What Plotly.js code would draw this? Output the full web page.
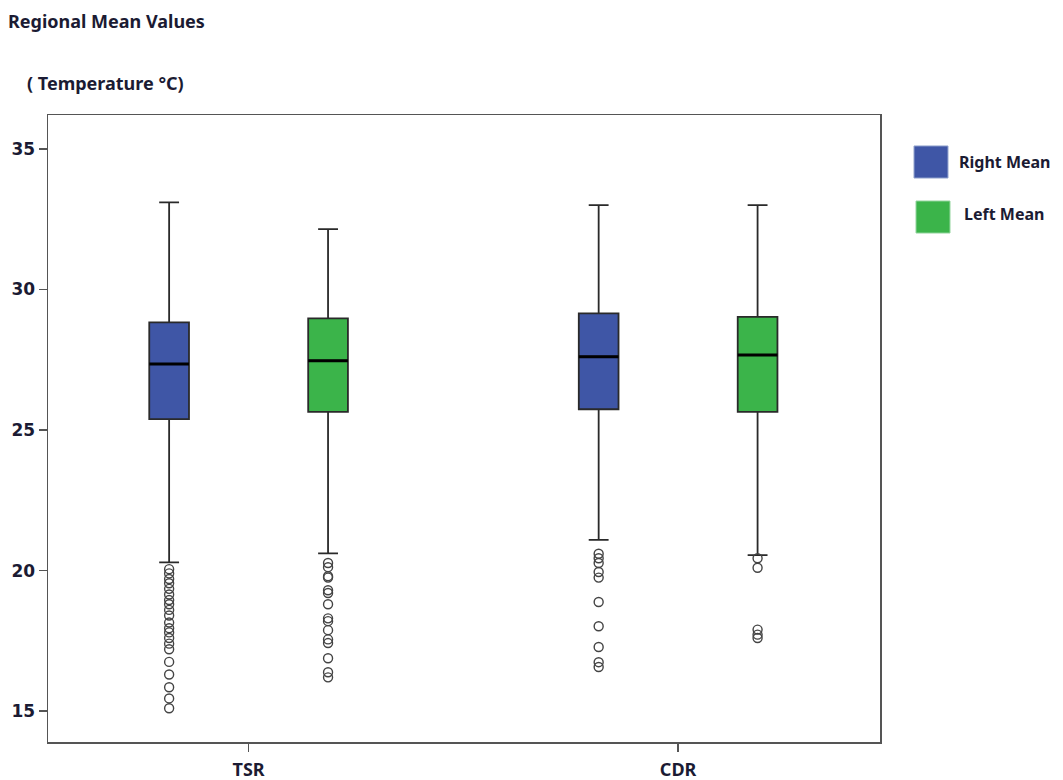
<!DOCTYPE html>
<html>
<head>
<meta charset="utf-8">
<script src="https://cdn.plot.ly/plotly-3.0.1.min.js"></script>
<style>html,body{margin:0;padding:0;background:#fff;}</style>
</head>
<body>
<div id="chart" style="width:1063px;height:780px;"></div>
<script>
// ---- data ----
const categories = ['TSR', 'CDR'];
const seriesNames = ['Right Mean', 'Left Mean'];

// Right Mean stats per category [TSR, CDR]
const rightLower  = [20.29, 21.09];
const rightQ1     = [25.39, 25.74];
const rightMedian = [27.35, 27.61];
const rightQ3     = [28.83, 29.15];
const rightUpper  = [33.10, 33.00];

// Left Mean stats per category [TSR, CDR]
const leftLower  = [20.61, 20.55];
const leftQ1     = [25.65, 25.65];
const leftMedian = [27.47, 27.67];
const leftQ3     = [28.97, 29.03];
const leftUpper  = [32.15, 33.00];

// outliers
const tsrRightOut = [20.05, 19.9, 19.7, 19.55, 19.35, 19.15, 18.95, 18.8, 18.6, 18.4, 18.15, 17.95, 17.8, 17.6, 17.4, 17.2, 16.75, 16.3, 15.85, 15.45, 15.1];
const cdrRightOut = [20.6, 20.44, 20.27, 19.95, 19.75, 18.88, 18.02, 17.28, 16.74, 16.57];
const tsrLeftOut  = [20.27, 20.12, 19.8, 19.75, 19.3, 19.2, 18.8, 18.3, 18.2, 17.88, 17.55, 17.42, 16.88, 16.38, 16.2];
const cdrLeftOut  = [20.44, 20.1, 17.9, 17.72, 17.6];

// ---- styles ----
const blue = '#3F56A6';
const green = '#3BB44A';
const edge = '#2a2a2a';
const textColor = '#1b1b33';
const fontFam = '"Noto Sans", "DejaVu Sans", sans-serif';

function statBox(name, color, group, lo, q1, med, q3, up) {
  return {
    type: 'box', name: name, x: categories,
    lowerfence: lo, q1: q1, median: med, q3: q3, upperfence: up,
    fillcolor: color, line: {color: edge, width: 1.8},
    whiskerwidth: 0.5, boxpoints: false,
    offsetgroup: group, showlegend: false, hoverinfo: 'y'
  };
}
function medianLine(group, med) {
  return {
    type: 'box', x: categories,
    lowerfence: med, q1: med, median: med, q3: med, upperfence: med,
    fillcolor: 'rgba(0,0,0,0)', line: {color: '#000', width: 3},
    whiskerwidth: 0, boxpoints: false,
    offsetgroup: group, showlegend: false, hoverinfo: 'skip'
  };
}
function outlierTrace(group, outA, outB) {
  const xs = outA.map(() => categories[0]).concat(outB.map(() => categories[1]));
  return {
    type: 'box', x: xs, y: outA.concat(outB),
    boxpoints: 'all', jitter: 0, pointpos: 0,
    fillcolor: 'rgba(0,0,0,0)', line: {color: 'rgba(0,0,0,0)', width: 0},
    whiskerwidth: 0,
    marker: {symbol: 'circle', size: 9, color: 'rgba(255,255,255,0)', line: {color: '#444', width: 1.4}},
    offsetgroup: group, showlegend: false, hoverinfo: 'y'
  };
}

const data = [
  statBox(seriesNames[0], blue, 'r', rightLower, rightQ1, rightMedian, rightQ3, rightUpper),
  statBox(seriesNames[1], green, 'l', leftLower, leftQ1, leftMedian, leftQ3, leftUpper),
  medianLine('r', rightMedian),
  medianLine('l', leftMedian),
  outlierTrace('r', tsrRightOut, cdrRightOut),
  outlierTrace('l', tsrLeftOut, cdrLeftOut)
];

const layout = {
  width: 1063, height: 780,
  margin: {l: 48, r: 183, t: 115, b: 38},
  paper_bgcolor: '#ffffff', plot_bgcolor: '#ffffff',
  boxmode: 'group', boxgap: 0.26, boxgroupgap: 0.75,
  showlegend: false,
  title: {
    text: 'Regional Mean Values',
    x: 0.0075, xanchor: 'left', y: 0.972, yanchor: 'middle',
    font: {family: fontFam, size: 18, color: textColor, weight: 'bold'}
  },
  xaxis: {
    type: 'category', range: [-0.467, 1.47],
    showline: true, mirror: true, linecolor: '#555', linewidth: 1.5,
    ticks: 'outside', ticklen: 8, tickwidth: 1.5, tickcolor: '#555',
    ticklabelstandoff: 3,
    showgrid: false, zeroline: false,
    tickfont: {family: fontFam, size: 18, color: textColor, weight: 'bold'}
  },
  yaxis: {
    range: [13.9, 36.21], tickvals: [15, 20, 25, 30, 35],
    showline: true, mirror: true, linecolor: '#555', linewidth: 1.5,
    ticks: 'outside', ticklen: 8, tickwidth: 1.5, tickcolor: '#555',
    showgrid: false, zeroline: false,
    tickfont: {family: '"DejaVu Sans", sans-serif', size: 17, color: textColor, weight: 'bold'}
  },
  shapes: [
    {type: 'rect', xref: 'paper', yref: 'paper', x0: 1.0409, x1: 1.0817, y0: 0.8995, y1: 0.9506,
     fillcolor: blue, line: {color: '#8fa0cc', width: 1}},
    {type: 'rect', xref: 'paper', yref: 'paper', x0: 1.0433, x1: 1.0841, y0: 0.8118, y1: 0.8628,
     fillcolor: green, line: {color: '#8fd39a', width: 1}}
  ],
  annotations: [
    {text: '( Temperature °C)', xref: 'paper', yref: 'paper', x: -0.0276, y: 1.051,
     xanchor: 'left', yanchor: 'middle', showarrow: false,
     font: {family: fontFam, size: 18, color: textColor, weight: 'bold'}},
    {text: seriesNames[0], xref: 'paper', yref: 'paper', x: 1.0925, y: 0.925,
     xanchor: 'left', yanchor: 'middle', showarrow: false,
     font: {family: fontFam, size: 16, color: textColor, weight: 'bold'}},
    {text: seriesNames[1], xref: 'paper', yref: 'paper', x: 1.0986, y: 0.8421,
     xanchor: 'left', yanchor: 'middle', showarrow: false,
     font: {family: fontFam, size: 16, color: textColor, weight: 'bold'}}
  ]
};

Plotly.newPlot('chart', data, layout, {displayModeBar: false, staticPlot: true});
</script>
</body>
</html>
